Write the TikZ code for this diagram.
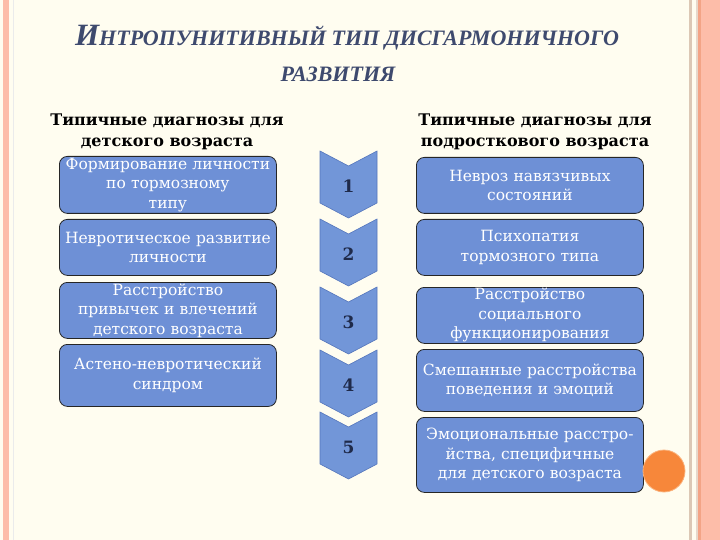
\documentclass[tikz,border=0pt]{standalone}
\usepackage{fontspec}
\setmainfont{DejaVu Serif}
\newfontfamily\titlefont{Liberation Serif}
\definecolor{bgc}{HTML}{FFFDF0}
\definecolor{pinkbar}{HTML}{FDBDA9}
\definecolor{pinkdark}{HTML}{F3A486}
\definecolor{tanline}{HTML}{DCC8B5}
\definecolor{boxblue}{HTML}{6E90D6}
\definecolor{chevblue}{HTML}{7296D8}
\definecolor{chevline}{HTML}{5576BC}
\definecolor{titlec}{HTML}{3E4A6E}
\definecolor{numc}{HTML}{1F2A4A}
\definecolor{orangec}{HTML}{F7873A}
\definecolor{orangeb}{HTML}{FAB27C}
\begin{document}
\begin{tikzpicture}[x=1pt,y=-1pt,
  diagbox/.style={draw=black!85, line width=0.8pt, fill=boxblue, rounded corners=8pt,
    text=white, align=center, font=\fontsize{15.5}{19.5}\selectfont,
    inner xsep=0pt, inner ysep=0pt, anchor=north west},
  lbox/.style={diagbox, text width=217pt, minimum width=217pt},
  rbox/.style={diagbox, text width=227pt, minimum width=227pt},
  head/.style={align=center, font=\fontsize{16}{20.5}\selectfont\bfseries, text=black},
  chev/.style={fill=chevblue, draw=chevline, line width=0.6pt},
  num/.style={font=\fontsize{17}{17}\selectfont\bfseries, text=numc},
  ttl/.style={font=\titlefont\bfseries\itshape, text=titlec, anchor=base}
]
\fill[bgc] (0,0) rectangle (720,540);
\useasboundingbox (0,0) rectangle (720,540);
% side bars
\fill[pinkbar] (3,0) rectangle (9,540);
\fill[black!8] (13,0) rectangle (14,540);
\fill[tanline] (689,0) rectangle (691.5,540);
\fill[tanline!70] (696,0) rectangle (697.5,540);
\fill[pinkdark] (698,0) rectangle (701,540);
\fill[pinkbar] (701,0) rectangle (720,540);
% title
\node[ttl] (t1) at (347,46) {{\fontsize{31}{31}\selectfont И}{\fontsize{22}{22}\selectfont НТРОПУНИТИВНЫЙ ТИП ДИСГАРМОНИЧНОГО}};
\node[ttl] (t2) at (338,82) {\fontsize{22}{22}\selectfont РАЗВИТИЯ};
% headers
\node[head] (hl) at (167,132) {Типичные диагнозы для\\детского возраста};
\node[head] (hr) at (535,132) {Типичные диагнозы для\\подросткового возраста};
% left boxes
\node[lbox, minimum height=57pt] (l1) at (59,156) {Формирование личности\\по тормозному\\типу};
\node[lbox, minimum height=56pt] (l2) at (59,219) {Невротическое развитие\\личности};
\node[lbox, minimum height=56pt] (l3) at (59,282) {Расстройство\\привычек и влечений\\детского возраста};
\node[lbox, minimum height=62pt] (l4) at (59,344) {Астено-невротический\\синдром};
% right boxes
\node[rbox, minimum height=56pt] (r1) at (416,157) {Невроз навязчивых\\состояний};
\node[rbox, minimum height=56pt] (r2) at (416,219) {Психопатия\\тормозного типа};
\node[rbox, minimum height=56pt] (r3) at (416,287) {Расстройство\\социального\\функционирования};
\node[rbox, minimum height=62pt] (r4) at (416,349) {Смешанные расстройства\\поведения и эмоций};
\node[rbox, minimum height=75pt] (r5) at (416,417) {Эмоциональные расстро-\\йства, специфичные\\для детского возраста};
% chevrons
\foreach \t/\n in {151/1,219/2,287/3,350/4,412/5}{
  \filldraw[chev] (320,\t) -- (348.5,\t+15) -- (377,\t) -- (377,\t+52) -- (348.5,\t+67) -- (320,\t+52) -- cycle;
  \node[num] (c\n) at (348.5,\t+35) {\n};
}
% orange circle
\filldraw[fill=orangec, draw=orangeb, line width=0.8pt] (664,471) circle (21);
\end{tikzpicture}
\end{document}
